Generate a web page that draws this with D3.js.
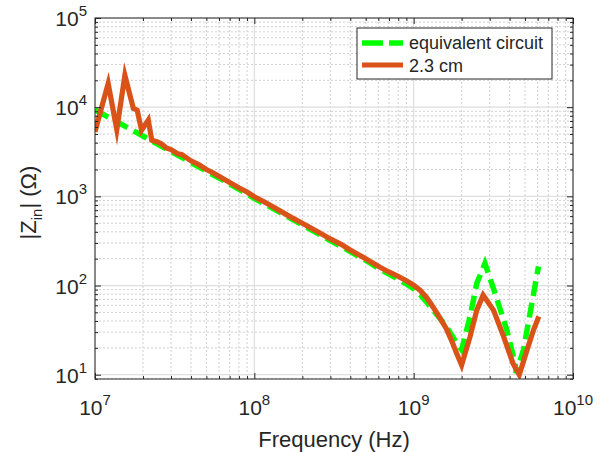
<!DOCTYPE html>
<html><head><meta charset="utf-8">
<script src="https://cdn.jsdelivr.net/npm/d3@7"></script>
<style>
html,body{margin:0;padding:0;background:#fff;}
svg{display:block;font-family:"Liberation Sans",Arial,Helvetica,sans-serif;}
</style></head>
<body>
<svg id="chart" width="605" height="452"></svg>
<script>
// ---- data ----
const eqFreq = [1e7, 1.5e7, 2e7, 3e7, 5e7, 7e7, 1e8, 2e8, 3e8, 5e8, 6.15e8, 8.2e8, 9e8, 1e9, 1.1e9, 1.2e9, 1.27e9, 1.4e9, 1.6e9, 1.75e9, 1.86e9, 2e9, 2.26e9, 2.49e9, 2.8e9, 3.24e9, 3.84e9, 4.33e9, 4.4e9, 4.89e9, 5.38e9, 6.07e9];
const eqZ    = [9300, 6300, 4750, 3180, 1920, 1380, 950, 480, 320, 192, 152, 115, 104, 92, 79, 66, 58, 47, 35, 27, 22.5, 19, 45, 106, 177, 82, 31.7, 13.4, 10.5, 19, 49, 163];

const msFreq = [1e7, 1.21e7, 1.37e7, 1.54e7, 1.74e7, 1.84e7, 1.96e7, 2.16e7, 2.27e7, 2.45e7, 2.6e7, 2.8e7, 3e7, 3.3e7, 3.5e7, 4e7, 4.5e7, 5e7, 5.5e7, 6e7, 7e7, 8e7, 9e7, 1e8, 1.15e8, 1.3e8, 1.6e8, 2e8, 2.5e8, 3e8, 3.5e8, 4e8, 5e8, 6.15e8, 7e8, 8.2e8, 9e8, 1e9, 1.1e9, 1.2e9, 1.27e9, 1.4e9, 1.6e9, 1.75e9, 1.86e9, 2e9, 2.26e9, 2.49e9, 2.73e9, 3.17e9, 3.67e9, 4.2e9, 4.6e9, 5.15e9, 5.65e9, 6.1e9];
const msZ    = [5300, 18500, 5600, 22800, 9700, 9250, 5520, 7150, 4270, 4100, 3900, 3500, 3350, 3000, 2950, 2500, 2260, 2000, 1840, 1680, 1430, 1250, 1120, 990, 870, 770, 620, 500, 400, 333, 290, 250, 200, 160, 142, 124, 113, 101, 88, 74, 64, 49, 33, 23, 17.4, 12.8, 26.7, 53, 78, 53, 26.7, 13.4, 10, 19, 31.7, 45];

const xTickExp = [7, 8, 9, 10];
const yTickExp = [1, 2, 3, 4, 5];
const seriesNames = ["equivalent circuit", "2.3 cm"];
const xLabel = "Frequency (Hz)";

// ---- layout ----
const svg = d3.select("#chart");
const L = 95, R = 573, T = 18, B = 379;
const x = d3.scaleLog().domain([1e7, 1e10]).range([L, R]);
const y = d3.scaleLog().domain([8.95, 1e5]).range([B, T]);
const axisCol = "#262626";

const xMinor = [], yMinor = [];
for (let e = 7; e < 10; e++) for (let k = 2; k <= 9; k++) xMinor.push(k * Math.pow(10, e));
for (let e = 0; e < 5; e++) for (let k = 2; k <= 9; k++) { const v = k * Math.pow(10, e); if (v >= 8.95 && v <= 1e5) yMinor.push(v); }
const xMajor = xTickExp.map(e => Math.pow(10, e));
const yMajor = yTickExp.map(e => Math.pow(10, e));

const g = svg.append("g");
g.selectAll(".xmg").data(xMinor).enter().append("line")
  .attr("x1", d => x(d)).attr("x2", d => x(d)).attr("y1", T).attr("y2", B)
  .attr("stroke", "#cfcfcf").attr("stroke-width", 1).attr("stroke-dasharray", "2,2");
g.selectAll(".ymg").data(yMinor).enter().append("line")
  .attr("y1", d => y(d)).attr("y2", d => y(d)).attr("x1", L).attr("x2", R)
  .attr("stroke", "#cfcfcf").attr("stroke-width", 1).attr("stroke-dasharray", "2,2");
g.selectAll(".xMg").data(xMajor).enter().append("line")
  .attr("x1", d => x(d)).attr("x2", d => x(d)).attr("y1", T).attr("y2", B)
  .attr("stroke", "#dedede").attr("stroke-width", 1.2);
g.selectAll(".yMg").data(yMajor).enter().append("line")
  .attr("y1", d => y(d)).attr("y2", d => y(d)).attr("x1", L).attr("x2", R)
  .attr("stroke", "#dedede").attr("stroke-width", 1.2);

const line = d3.line().x(d => x(d[0])).y(d => y(d[1]));
const eqData = eqFreq.map((f, i) => [f, eqZ[i]]);
const msData = msFreq.map((f, i) => [f, msZ[i]]);
svg.append("clipPath").attr("id", "clip").append("rect")
  .attr("x", L).attr("y", T).attr("width", R - L).attr("height", B - T);
const plot = svg.append("g").attr("clip-path", "url(#clip)");
plot.append("path").datum(eqData).attr("d", line).attr("fill", "none")
  .attr("stroke", "#00ff00").attr("stroke-width", 5.5).attr("stroke-dasharray", "15,7");
plot.append("path").datum(msData).attr("d", line).attr("fill", "none")
  .attr("stroke", "#d95319").attr("stroke-width", 5.2).attr("stroke-linejoin", "miter").attr("stroke-miterlimit", 10);

const xAxB = d3.axisTop(x).tickValues(xMajor).tickSize(6).tickFormat("");
const xAxBm = d3.axisTop(x).tickValues(xMinor).tickSize(3).tickFormat("");
const xAxT = d3.axisBottom(x).tickValues(xMajor).tickSize(6).tickFormat("");
const xAxTm = d3.axisBottom(x).tickValues(xMinor).tickSize(3).tickFormat("");
const yAxL = d3.axisRight(y).tickValues(yMajor).tickSize(6).tickFormat("");
const yAxLm = d3.axisRight(y).tickValues(yMinor).tickSize(3).tickFormat("");
const yAxR = d3.axisLeft(y).tickValues(yMajor).tickSize(6).tickFormat("");
const yAxRm = d3.axisLeft(y).tickValues(yMinor).tickSize(3).tickFormat("");
function styleAx(sel) {
  sel.selectAll("line").attr("stroke", axisCol).attr("stroke-width", 1);
  sel.selectAll(".domain").attr("stroke", "none");
}
[[xAxB, `translate(0,${B})`], [xAxBm, `translate(0,${B})`], [xAxT, `translate(0,${T})`], [xAxTm, `translate(0,${T})`],
 [yAxL, `translate(${L},0)`], [yAxLm, `translate(${L},0)`], [yAxR, `translate(${R},0)`], [yAxRm, `translate(${R},0)`]]
 .forEach(([ax, tr]) => { const s = svg.append("g").attr("transform", tr).call(ax); styleAx(s); });
svg.append("rect").attr("x", L).attr("y", T).attr("width", R - L).attr("height", B - T)
  .attr("fill", "none").attr("stroke", axisCol).attr("stroke-width", 1);

xTickExp.forEach(e => {
  const t = svg.append("text").attr("x", x(Math.pow(10, e))).attr("y", 415)
    .attr("text-anchor", "middle").attr("fill", axisCol).attr("font-size", 21);
  t.append("tspan").text("10");
  t.append("tspan").attr("dy", -10).attr("font-size", 15).text(e);
});
yTickExp.forEach(e => {
  const t = svg.append("text").attr("x", 87).attr("y", y(Math.pow(10, e)) + 8)
    .attr("text-anchor", "end").attr("fill", axisCol).attr("font-size", 21);
  t.append("tspan").text("10");
  t.append("tspan").attr("dy", -10).attr("font-size", 15).text(e);
});

svg.append("text").attr("x", (L + R) / 2).attr("y", 447).attr("text-anchor", "middle")
  .attr("fill", axisCol).attr("font-size", 22).text(xLabel);
const yl = svg.append("text").attr("transform", `translate(36,${(T + B) / 2 + 4}) rotate(-90)`)
  .attr("text-anchor", "middle").attr("fill", axisCol).attr("font-size", 22);
yl.append("tspan").text("|Z");
yl.append("tspan").attr("dy", 6).attr("font-size", 15).text("in");
yl.append("tspan").attr("dy", -6).text("| (Ω)");

const lg = svg.append("g");
lg.append("rect").attr("x", 357).attr("y", 28).attr("width", 195).attr("height", 51)
  .attr("fill", "#fff").attr("stroke", axisCol).attr("stroke-width", 1);
lg.append("line").attr("x1", 362).attr("x2", 403).attr("y1", 43).attr("y2", 43)
  .attr("stroke", "#00ff00").attr("stroke-width", 5.5).attr("stroke-dasharray", "21,6");
lg.append("line").attr("x1", 362).attr("x2", 403).attr("y1", 65).attr("y2", 65)
  .attr("stroke", "#d95319").attr("stroke-width", 5.2);
lg.append("text").attr("x", 409).attr("y", 49).attr("fill", axisCol).attr("font-size", 18).text(seriesNames[0]);
lg.append("text").attr("x", 409).attr("y", 72).attr("fill", axisCol).attr("font-size", 18).text(seriesNames[1]);
</script>
</body></html>
